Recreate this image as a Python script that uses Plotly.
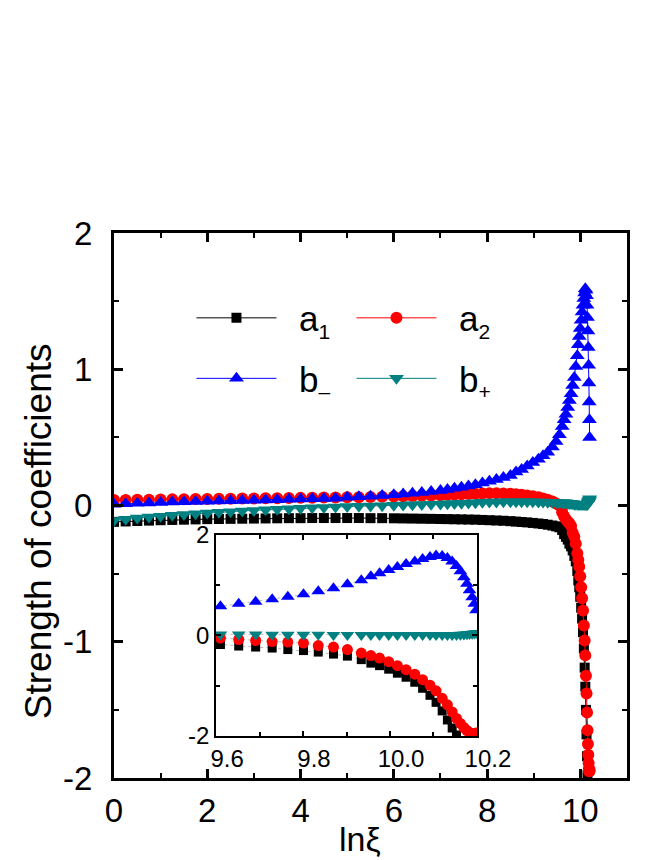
import plotly.graph_objects as go

# ---------------- data ----------------
x_ln = [0.0, 0.25, 0.5, 0.75, 1.0, 1.25, 1.5, 1.75, 2.0, 2.25,
        2.5, 2.75, 3.0, 3.25, 3.5, 3.75, 4.0, 4.25, 4.5, 4.75,
        5.0, 5.25, 5.5, 5.75, 6.0, 6.2, 6.4, 6.6, 6.8, 7.0,
        7.15, 7.3, 7.45, 7.6, 7.75, 7.9, 8.05, 8.2, 8.35, 8.5,
        8.62, 8.74, 8.86, 8.98, 9.1, 9.2, 9.3, 9.4, 9.48, 9.55,
        9.61, 9.652, 9.691, 9.729, 9.765, 9.801, 9.835, 9.87, 9.902, 9.934,
        9.956, 9.976, 9.997, 10.017, 10.037, 10.057, 10.075, 10.092, 10.106, 10.12,
        10.132, 10.143, 10.153, 10.162, 10.17, 10.177, 10.183, 10.189, 10.194, 10.198]

a1 = [-0.120, -0.117, -0.114, -0.111, -0.108, -0.106, -0.104, -0.102, -0.100, -0.099,
      -0.098, -0.097, -0.096, -0.095, -0.094, -0.093, -0.093, -0.092, -0.092, -0.092,
      -0.092, -0.092, -0.093, -0.093, -0.094, -0.095, -0.096, -0.097, -0.098, -0.099,
      -0.100, -0.101, -0.102, -0.103, -0.104, -0.106, -0.108, -0.110, -0.112, -0.115,
      -0.118, -0.121, -0.124, -0.128, -0.132, -0.136, -0.141, -0.147, -0.153, -0.160,
      -0.18, -0.21, -0.23, -0.25, -0.28, -0.30, -0.33, -0.37, -0.41, -0.48,
      -0.55, -0.60, -0.67, -0.75, -0.83, -0.93, -1.05, -1.19, -1.33, -1.50,
      -1.68, -1.84, -1.98, -2.12, -2.25, -2.40, -2.55, -2.70, -2.85, -3.00]

a2 = [0.040, 0.041, 0.042, 0.043, 0.044, 0.045, 0.046, 0.047, 0.048, 0.049,
      0.050, 0.051, 0.052, 0.053, 0.054, 0.055, 0.056, 0.057, 0.058, 0.059,
      0.060, 0.061, 0.062, 0.064, 0.066, 0.068, 0.070, 0.072, 0.074, 0.076,
      0.078, 0.080, 0.082, 0.084, 0.086, 0.088, 0.089, 0.089, 0.088, 0.086,
      0.083, 0.079, 0.074, 0.068, 0.060, 0.052, 0.042, 0.030, 0.015, 0.000,
      -0.05, -0.08, -0.10, -0.12, -0.13, -0.15, -0.20, -0.23, -0.28, -0.35,
      -0.40, -0.45, -0.52, -0.60, -0.68, -0.77, -0.88, -0.99, -1.10, -1.25,
      -1.38, -1.52, -1.65, -1.75, -1.83, -1.89, -1.93, -1.95, -1.95, -1.94]

b_minus = [0.010, 0.013, 0.016, 0.019, 0.022, 0.025, 0.027, 0.029, 0.031, 0.033,
           0.035, 0.037, 0.039, 0.041, 0.043, 0.045, 0.047, 0.049, 0.051, 0.053,
           0.060, 0.064, 0.068, 0.073, 0.078, 0.085, 0.090, 0.096, 0.103, 0.110,
           0.118, 0.126, 0.134, 0.143, 0.153, 0.165, 0.178, 0.190, 0.205, 0.220,
           0.245, 0.265, 0.290, 0.315, 0.340, 0.365, 0.390, 0.430, 0.470, 0.520,
           0.58, 0.63, 0.67, 0.72, 0.77, 0.82, 0.88, 0.94, 1.02, 1.10,
           1.18, 1.24, 1.30, 1.36, 1.42, 1.47, 1.52, 1.56, 1.59, 1.58,
           1.54, 1.47, 1.38, 1.28, 1.16, 1.03, 0.90, 0.76, 0.63, 0.50]

b_plus = [-0.110, -0.100, -0.092, -0.085, -0.078, -0.072, -0.066, -0.060, -0.055, -0.050,
          -0.045, -0.040, -0.036, -0.032, -0.028, -0.024, -0.020, -0.017, -0.014, -0.011,
          -0.008, -0.005, -0.003, -0.001, 0.001, 0.003, 0.005, 0.007, 0.009, 0.011,
          0.013, 0.015, 0.017, 0.019, 0.021, 0.023, 0.025, 0.026, 0.027, 0.028,
          0.028, 0.028, 0.028, 0.027, 0.026, 0.025, 0.024, 0.023, 0.022, 0.021,
          0.020, 0.020, 0.020, 0.015, 0.015, 0.015, 0.015, 0.010, 0.010, 0.010,
          0.010, 0.010, 0.010, 0.010, 0.010, 0.010, 0.010, 0.010, 0.010, 0.010,
          0.010, 0.010, 0.010, 0.015, 0.020, 0.025, 0.030, 0.035, 0.040, 0.050]

series_base = ["a", "a", "b", "b"]
series_subs = ["1", "2", "\u2013", "+"]
series_values = [a1, a2, b_minus, b_plus]
series_colors = ["#000000", "#ff0000", "#0000ff", "#008080"]
series_symbols = ["square", "circle", "triangle-up", "triangle-down"]
series_legends = ["legend", "legend", "legend2", "legend2"]
main_sizes = [10, 12, 13, 13]
inset_sizes = [9, 11, 12, 12]

x_main_ticks = [0, 2, 4, 6, 8, 10]
x_main_text = ["0", "2", "4", "6", "8", "10"]
y_main_ticks = [-2, -1, 0, 1, 2]
y_main_text = ["-2", "-1", "0", "1", "2"]
x_inset_ticks = [9.6, 9.8, 10.0, 10.2]
x_inset_text = ["9.6", "9.8", "10.0", "10.2"]
y_inset_ticks = [-2, 0, 2]
y_inset_text = ["-2", "0", "2"]
x_title = "ln\u03be"
y_title = "Strength of coefficients"

FONT = "Liberation Sans, Arial, sans-serif"
GAP = "\u2002"

fig = go.Figure()

for base, sub, vals, col, sym, leg, ms in zip(series_base, series_subs, series_values,
                                               series_colors, series_symbols,
                                               series_legends, main_sizes):
    label = GAP + base + "<sub><span style='font-size:21px'>" + sub + "</span></sub>"
    fig.add_trace(go.Scatter(
        x=x_ln, y=vals, name=label, mode="lines+markers",
        line=dict(color=col, width=1),
        marker=dict(symbol=sym, size=ms, color=col, line=dict(width=0)),
        legend=leg, xaxis="x", yaxis="y"))

for base, sub, vals, col, sym, ms in zip(series_base, series_subs, series_values,
                                          series_colors, series_symbols, inset_sizes):
    fig.add_trace(go.Scatter(
        x=x_ln, y=vals, name=base + sub, mode="lines+markers", showlegend=False,
        line=dict(color="#bbbbbb", width=1, dash="dot"),
        marker=dict(symbol=sym, size=ms, color=col, line=dict(width=0)),
        xaxis="x2", yaxis="y2"))

axis_main = dict(showline=True, linewidth=3, linecolor="black", mirror="ticks",
                 ticks="inside", ticklen=9, tickwidth=3, tickcolor="black",
                 showgrid=False, zeroline=False,
                 tickfont=dict(family=FONT, size=33, color="black"))

inset_axis = dict(showline=True, linewidth=2, linecolor="black", mirror="ticks",
                  ticks="inside", ticklen=5, tickwidth=2, tickcolor="black",
                  showgrid=False, zeroline=False,
                  tickfont=dict(family=FONT, size=24, color="black"))

legend_common = dict(orientation="h", xanchor="left", yanchor="top",
                     bgcolor="rgba(0,0,0,0)", itemwidth=80, entrywidth=65,
                     font=dict(family=FONT, size=35, color="black"))

fig.update_layout(
    width=664, height=860,
    margin=dict(l=106, r=11, t=225, b=90),
    paper_bgcolor="white", plot_bgcolor="white",
    font=dict(family=FONT, color="black"),
    xaxis=dict(axis_main, domain=[0, 1], range=[0, 11],
               tickvals=x_main_ticks, ticktext=x_main_text,
               minor=dict(dtick=1, ticks="inside", ticklen=5, tickwidth=2, tickcolor="black"),
               ticklabelstandoff=1),
    yaxis=dict(axis_main, domain=[0, 1], range=[-2, 2],
               tickvals=y_main_ticks, ticktext=y_main_text,
               minor=dict(dtick=0.5, ticks="inside", ticklen=5, tickwidth=2, tickcolor="black"),
               ticklabelstandoff=12),
    xaxis2=dict(inset_axis, domain=[0.199, 0.7075], anchor="y2", range=[9.6, 10.2],
                tickvals=x_inset_ticks, ticktext=x_inset_text, ticklabelshift=11,
                minor=dict(tickvals=[9.7, 9.9, 10.1], ticks="inside", ticklen=4, tickwidth=2, tickcolor="black")),
    yaxis2=dict(inset_axis, domain=[0.077, 0.446], anchor="x2", range=[-2, 2],
                tickvals=y_inset_ticks, ticktext=y_inset_text,
                minor=dict(tickvals=[-1, 1], ticks="inside", ticklen=4, tickwidth=2, tickcolor="black")),
    legend=dict(legend_common, x=0.151, y=0.898),
    legend2=dict(legend_common, x=0.151, y=0.787),
    annotations=[
        dict(text=x_title, xref="paper", yref="paper", x=0.479, y=-0.112,
             xanchor="center", yanchor="middle", showarrow=False,
             font=dict(family=FONT, size=34, color="black")),
        dict(text=y_title, xref="paper", yref="paper", x=-0.148, y=0.453,
             xanchor="center", yanchor="middle", showarrow=False, textangle=-90,
             font=dict(family=FONT, size=37, color="black")),
    ],
)

fig.write_html("out.html")
